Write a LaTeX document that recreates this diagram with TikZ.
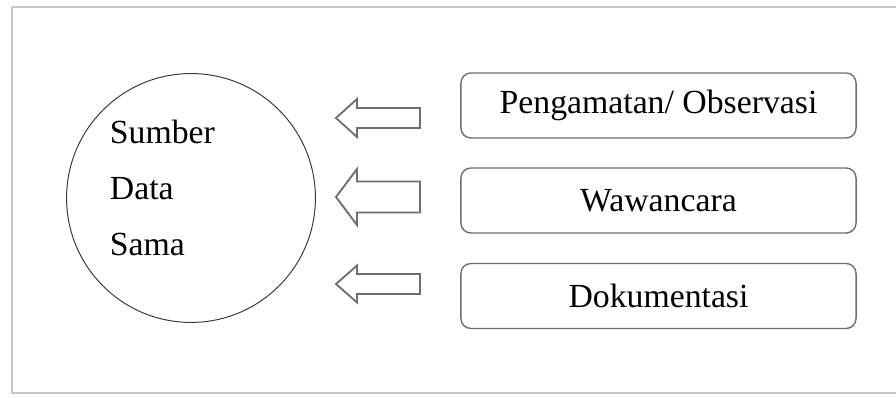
\documentclass[tikz,border=0pt]{standalone}
\usepackage{fontspec}
\setmainfont{Liberation Serif}
\definecolor{FrameGray}{HTML}{C8C8C8}
\definecolor{EdgeGray}{HTML}{6E6E6E}
\definecolor{CircleGray}{HTML}{3A3A3A}

\begin{document}
\begin{tikzpicture}[x=0.025cm, y=-0.025cm,
    every node/.style={font=\fontsize{24}{29}\selectfont},
    methodbox/.style={draw=EdgeGray, line width=1pt, rounded corners=0.25cm,
      minimum width=9.875cm, minimum height=1.625cm},
    blockarrow/.style={draw=EdgeGray, line width=1.3pt}]
  \useasboundingbox (0,0) rectangle (896,398);
  \draw[FrameGray, line width=1.5pt] (896,7) -- (12,7) -- (12,393) -- (896,393);
  % source circle
  \node[circle, draw=CircleGray, line width=0.7pt, minimum size=6.22cm] (src) at (191,198) {};
  \node[anchor=west, align=left, font=\fontsize{24}{39.8}\selectfont] (srctext) at (105,188) {Sumber\\Data\\Sama};
  % methods
  \node[methodbox] (obs) at (658.5,105.5) {Pengamatan/ Observasi};
  \node[methodbox] (wwc) at (658.5,200.5) {Wawancara};
  \node[methodbox] (dok) at (658.5,296) {Dokumentasi};
  % block arrows
  \foreach \y/\h/\s in {118/19/10, 197/28/15.5, 284/18.5/10}
    \draw[blockarrow] (336,\y) -- (357,\y-\h) -- (357,\y-\s) -- (420,\y-\s)
      -- (420,\y+\s) -- (357,\y+\s) -- (357,\y+\h) -- cycle;
\end{tikzpicture}
\end{document}
